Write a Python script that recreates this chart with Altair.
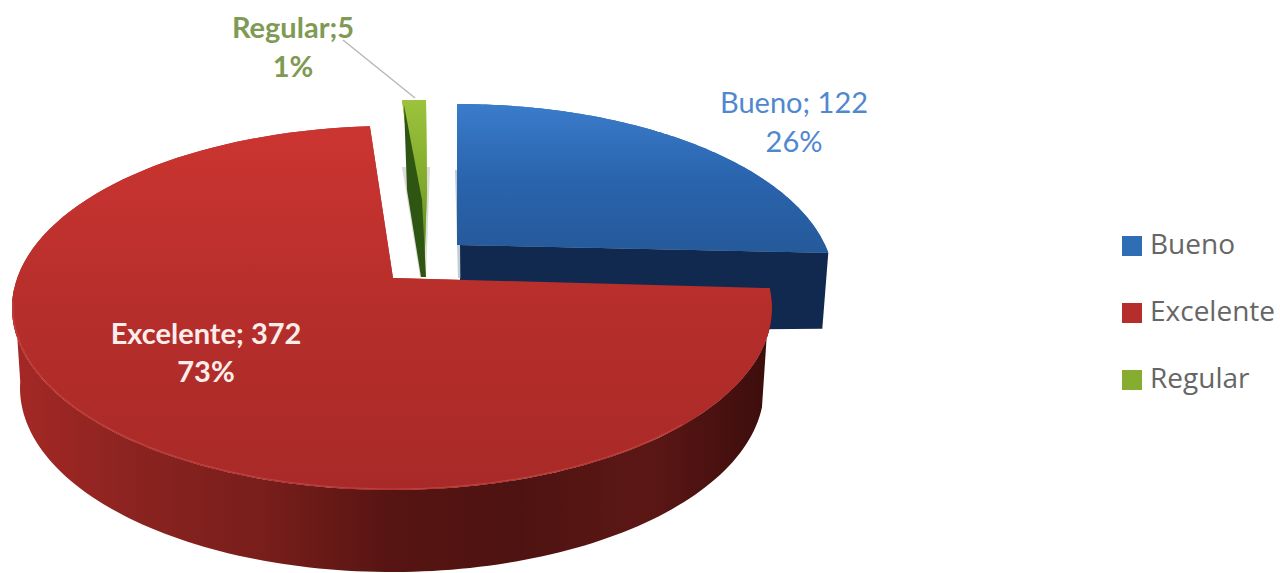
import math
import altair as alt

# Survey results
categories = ["Bueno", "Excelente", "Regular"]
counts = [122, 372, 5]
percent_labels = ["26%", "73%", "1%"]
count_labels = ["Bueno; 122", "Excelente; 372", "Regular;5"]
flat_colors = ["#2f6db5", "#b52e2b", "#86ad30"]
text_colors = ["#4f88cf", "#fbeeea", "#7f9a55"]

W, H = 1280, 573
FONT = "Lato"
total = sum(counts)

# Slice angles in degrees, clockwise from twelve o'clock
spans = []
start = 0.0
for c in counts:
    end = start + 360.0 * c / total
    spans.append((start, end))
    start = end


def warp(theta, tilt):
    # The oblique view compresses angles on the right of the disc
    return theta - tilt * math.sin(math.radians(theta))


def arc(cx, cy, a, b, t0, t1, tilt=0.0, n=120):
    pts = []
    for i in range(n + 1):
        t = math.radians(warp(t0 + (t1 - t0) * i / n, tilt))
        pts.append([cx + a * math.sin(t), cy - b * math.cos(t)])
    return pts


def polygon(points, **extra):
    ring = list(points) + [points[0]]
    return {"type": "Feature", "properties": {},
            "geometry": {"type": "Polygon", "coordinates": [ring]}, **extra}


def polyline(points):
    return {"type": "Feature", "properties": {},
            "geometry": {"type": "LineString", "coordinates": points}}


def linear(stops, horizontal=False):
    n = len(stops) - 1
    return alt.Gradient(
        gradient="linear",
        x1=0, y1=0, x2=1 if horizontal else 0, y2=0 if horizontal else 1,
        stops=[alt.GradientStop(color=c, offset=i / n) for i, c in enumerate(stops)],
    )


projection = alt.Projection(type="identity", scale=1, translate=[0, 0])


def shape(feature, fill=None, opacity=1.0):
    return alt.Chart(alt.Data(values=[feature])).mark_geoshape(
        fill=fill, stroke=None, opacity=opacity
    ).project(**projection.to_dict())


# Blue slice
blue_apex = [457, 245]
blue_arc = arc(457, 284, 377, 180, spans[0][0], spans[0][1], tilt=8)
blue_end = blue_arc[-1]
blue_top = polygon([blue_apex] + blue_arc, category=categories[0])
blue_wall = polygon([[460, 245], blue_end, [blue_end[0] - 6, blue_end[1] + 76], [460, 331]])
blue_shadow = polygon([[455, 170], [458, 170], [461, 278], [458, 278]])

# Green slice
green_apex = [424, 277]
green_arc = arc(426, 282, 380, 182, spans[2][0], spans[2][1])
green_top = polygon(green_arc + [[427, 190], green_apex], category=categories[2])
green_dark = polygon([[404, 105], [422, 200], [426, 277], [421, 277], [407, 190]])
green_shadow = polygon([[402, 167], [430, 167], [426, 277], [420, 277]])

# Red slice: top face and the curved wall beneath it
red_apex = [393, 278]
red_arc = arc(392, 308, 380, 182, spans[1][0], spans[1][1], tilt=4.3)
red_top = polygon([red_apex] + red_arc, category=categories[1])
front_top = arc(392, 308, 380, 182, 84, 276)
front_bottom = arc(392, 388, 372, 184, 96, 272)
red_wall = polygon(front_top + front_bottom[::-1])
red_rim = polyline(arc(392, 308, 379, 181, 130, 272))

leader = polyline([[343, 40], [415, 98]])

layers = [
    # Flat faces carry the category colours that feed the legend
    alt.Chart(alt.Data(values=[blue_top, red_top, green_top]))
    .mark_geoshape(stroke=None)
    .encode(
        color=alt.Color(
            "category:N",
            scale=alt.Scale(domain=categories, range=flat_colors),
            legend=alt.Legend(
                title=None, orient="none", legendX=1118, legendY=232,
                symbolType="square", symbolSize=400, symbolStrokeWidth=0,
                labelFont="Open Sans", labelFontSize=28, labelColor="#666666",
                labelOffset=4, rowPadding=39,
            ),
        )
    )
    .project(**projection.to_dict()),
    shape(blue_wall, "#12294f"),
    shape(blue_shadow, "#8a97a8", 0.5),
    shape(blue_top, linear(["#3a7ccb", "#2a64ad", "#255a9a"])),
    shape(green_shadow, "#9a9f92", 0.35),
    shape(green_top, linear(["#9cc33c", "#7fa92c", "#4a7a1a"])),
    shape(green_dark, "#2f5512"),
    shape(red_wall, linear(["#a52825", "#8a2320", "#781e1b", "#561412",
                            "#4e1311", "#5c1715", "#3b0d0c"], horizontal=True)),
    shape(red_top, linear(["#cb3531", "#b62e2b", "#a82a28"])),
    alt.Chart(alt.Data(values=[red_rim])).mark_geoshape(
        filled=False, stroke="#cf4e49", strokeWidth=1.2, opacity=0.6
    ).project(**projection.to_dict()),
    alt.Chart(alt.Data(values=[leader])).mark_geoshape(
        filled=False, stroke="#b5b5b5", strokeWidth=1.3
    ).project(**projection.to_dict()),
]

# Data labels: count line and percentage line for each slice
label_x = [794, 206, 293]
count_y = [104, 335, 29]
percent_y = [143, 373, 68]
weights = ["normal", "bold", "bold"]
for i, cat in enumerate(categories):
    rows = [
        {"lon": label_x[i], "lat": count_y[i], "label": count_labels[i]},
        {"lon": label_x[i], "lat": percent_y[i], "label": percent_labels[i]},
    ]
    layers.append(
        alt.Chart(alt.Data(values=rows))
        .mark_text(font=FONT, fontSize=29, fontWeight=weights[i],
                   color=text_colors[i], align="center", baseline="middle")
        .encode(longitude="lon:Q", latitude="lat:Q", text="label:N")
        .project(**projection.to_dict())
    )

chart = (
    alt.layer(*layers)
    .properties(width=W, height=H, padding=0, autosize=alt.AutoSizeParams(type="none"),
                background="white")
    .configure_view(stroke=None)
)

chart.save("out.html", embed_options={"renderer": "svg", "actions": False})
